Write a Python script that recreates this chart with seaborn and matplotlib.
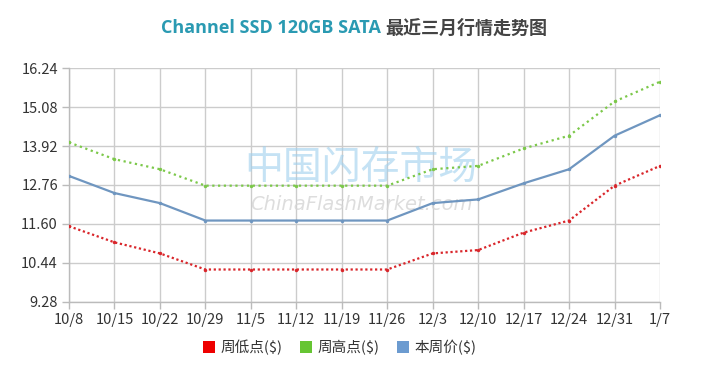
import matplotlib
matplotlib.use("Agg")
import matplotlib.pyplot as plt
import seaborn as sns
import pandas as pd
from matplotlib.lines import Line2D

dates = ["10/8", "10/15", "10/22", "10/29", "11/5", "11/12", "11/19", "11/26",
         "12/3", "12/10", "12/17", "12/24", "12/31", "1/7"]
low = [11.53, 11.05, 10.72, 10.24, 10.24, 10.24, 10.24, 10.24,
       10.72, 10.82, 11.34, 11.70, 12.74, 13.33]
high = [14.03, 13.53, 13.23, 12.74, 12.74, 12.74, 12.74, 12.74,
        13.23, 13.33, 13.85, 14.23, 15.25, 15.84]
price = [13.03, 12.52, 12.22, 11.70, 11.70, 11.70, 11.70, 11.70,
         12.22, 12.33, 12.81, 13.23, 14.23, 14.84]
series_names = ["周低点($)", "周高点($)", "本周价($)"]
yticks = [9.28, 10.44, 11.60, 12.76, 13.92, 15.08, 16.24]

line_colors = {"周低点($)": "#d9262b", "周高点($)": "#7cc84a", "本周价($)": "#6f96c0"}
legend_colors = {"周低点($)": "#ee0000", "周高点($)": "#66c533", "本周价($)": "#6c9bd0"}

sns.set_theme(style="white")
plt.rcParams['font.family'] = ['Noto Sans CJK SC', 'DejaVu Sans']

rows = []
for name, vals in zip(series_names, [low, high, price]):
    for d, v in zip(dates, vals):
        rows.append({"date": d, "value": v, "series": name})
df = pd.DataFrame(rows)

fig = plt.figure(figsize=(7.2, 3.65), dpi=100)
ax = fig.add_axes([69/720, 1-301.7/365, (660-69)/720, (301.7-68.3)/365])

sns.lineplot(data=df, x="date", y="value", hue="series", style="series",
             palette=line_colors,
             dashes={"周低点($)": (1, 1.2), "周高点($)": (1, 1.6), "本周价($)": ""},
             markers={"周低点($)": "o", "周高点($)": "o", "本周价($)": "o"},
             markersize=2.5, markeredgewidth=0, sort=False, legend=False, ax=ax,
             zorder=3)
for ln in ax.lines:
    ln.set_linewidth(1.6)

ax.set_xlim(0, len(dates) - 1)
ax.set_ylim(yticks[0], yticks[-1])
ax.set_yticks(yticks)
ax.set_yticklabels([f"{t:.2f}" for t in yticks])
ax.set_xlabel("")
ax.set_ylabel("")
ax.grid(True, color="#cccccc", linewidth=1)
for s in ["top", "right"]:
    ax.spines[s].set_visible(False)
for s in ["left", "bottom"]:
    ax.spines[s].set_color("#bbbbbb")
    ax.spines[s].set_linewidth(1)
ax.tick_params(axis="both", colors="#bbbbbb", length=5, width=1,
               labelcolor="#333333", labelsize=10.5, pad=3, left=True, bottom=True)
ax.set_axisbelow(True)

# watermark
ax.text(0.494, 0.573, "中国闪存市场", transform=ax.transAxes, ha="center", va="center",
        fontsize=28, color="#9fd0ee", alpha=0.6, zorder=1)
ax.text(0.494, 0.415, "ChinaFlashMarket.com", transform=ax.transAxes, ha="center",
        va="center", fontsize=14, color="#d5d5d5", style="italic",
        family="DejaVu Sans", alpha=0.8, zorder=1)

# title
fig.text(0.535, 0.922, "Channel SSD 120GB SATA ", ha="right", va="center",
         fontsize=13, color="#2a9ab2", fontweight="bold", family="Open Sans")
fig.text(0.535, 0.922, "最近三月行情走势图", ha="left", va="center",
         fontsize=13, color="#444444", fontweight="bold")

handles = [Line2D([], [], linestyle="none", marker="s", markersize=9,
                  markerfacecolor=legend_colors[n], markeredgewidth=0) for n in series_names]
fig.legend(handles, series_names, loc="center", bbox_to_anchor=(0.472, 0.047),
           ncol=3, frameon=False, fontsize=10.5, handlelength=0.8, handletextpad=0.4,
           columnspacing=1.2, labelcolor="#333333")

fig.savefig("out.png", dpi=100)
